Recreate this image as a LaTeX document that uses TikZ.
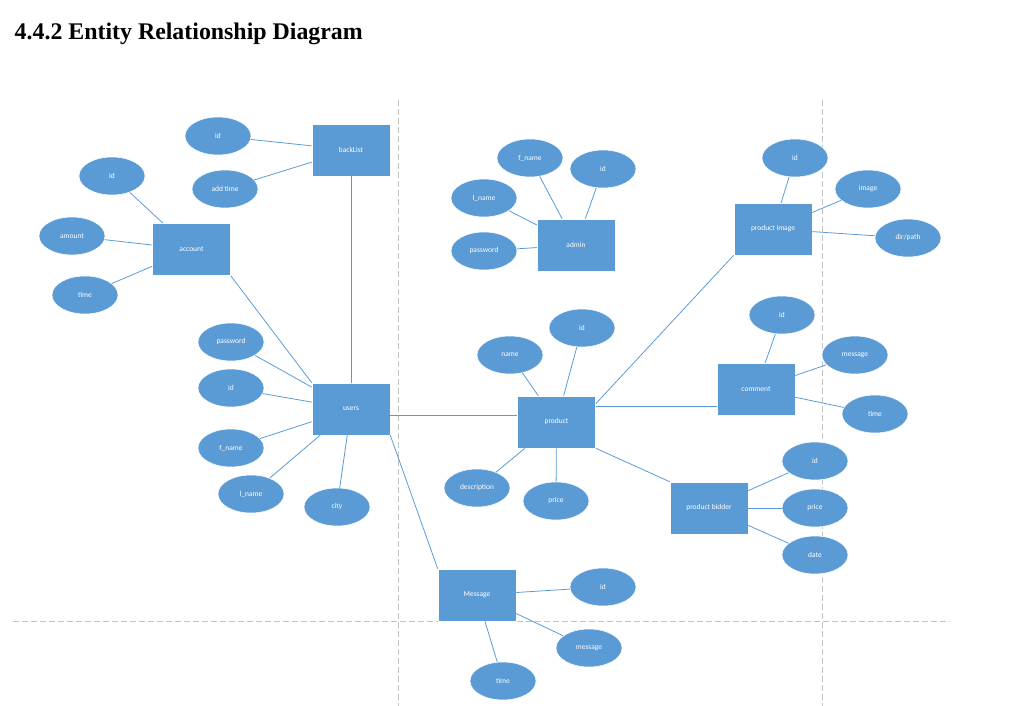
\documentclass[tikz,border=0pt]{standalone}
\usepackage{fontspec}
\setmainfont{Liberation Serif}
\newfontfamily\erfont{Carlito}
\usepackage{tikz}
\usetikzlibrary{shapes.geometric}
\definecolor{erblue}{HTML}{5B9BD5}
\definecolor{guidegray}{HTML}{C4C4C4}

\begin{document}
\begin{tikzpicture}[x=0.75pt,y=-0.75pt,
    entity/.style={rectangle,fill=erblue,draw=white,line width=0.4pt,minimum width=58.5pt,minimum height=39pt,inner sep=0pt,text=white,font=\erfont\fontsize{5.6pt}{6.5pt}\selectfont},
    attr/.style={ellipse,fill=erblue,draw=white,line width=0.4pt,minimum width=49.5pt,minimum height=28.5pt,inner sep=0pt,text=white,font=\erfont\fontsize{5.6pt}{6.5pt}\selectfont},
    link/.style={draw=erblue,line width=0.6pt},
    guide/.style={draw=guidegray,line width=0.75pt,dash pattern=on 4.5pt off 2.25pt}]
    \useasboundingbox (0,0) rectangle (1022,706);

    \node[anchor=base west,font=\bfseries\fontsize{17.9pt}{21pt}\selectfont] (title) at (10,40) {4.4.2 Entity Relationship Diagram};

    % page guides
    \coordinate (g1) at (398,100);
    \coordinate (g2) at (398,706);
    \coordinate (g3) at (822,100);
    \coordinate (g4) at (822,706);
    \coordinate (g5) at (13,621);
    \coordinate (g6) at (950,621);
    \path[guide] (g1) -- (g2);
    \path[guide] (g3) -- (g4);
    \path[guide] (g5) -- (g6);

    % entities
    \node[entity] (backlist) at (351,150) {backList};
    \node[entity] (account) at (191.5,249.5) {account};
    \node[entity] (admin) at (576,245) {admin};
    \node[entity] (pimage) at (773,229) {product image};
    \node[entity] (users) at (351,409) {users};
    \node[entity] (product) at (556.5,422) {product};
    \node[entity] (comment) at (756,389) {comment};
    \node[entity] (bidder) at (709,508) {product bidder};
    \node[entity] (message) at (477,595) {Message};

    % attributes
    \node[attr] (blid) at (218,136) {id};
    \node[attr] (bladd) at (225,189) {add time};
    \node[attr] (accid) at (112,176) {id};
    \node[attr] (accamount) at (72,236) {amount};
    \node[attr] (acctime) at (85,295) {time};
    \node[attr] (adfname) at (530,158) {f\_name};
    \node[attr] (adid) at (603,169) {id};
    \node[attr] (adlname) at (484,198) {l\_name};
    \node[attr] (adpass) at (484,251) {password};
    \node[attr] (piid) at (795,158) {id};
    \node[attr] (piimage) at (868,189) {image};
    \node[attr] (pipath) at (908,238) {dir/path};
    \node[attr] (upass) at (231,342) {password};
    \node[attr] (uid) at (231,388) {id};
    \node[attr] (ufname) at (231,448) {f\_name};
    \node[attr] (ulname) at (251,494) {l\_name};
    \node[attr] (ucity) at (337,507) {city};
    \node[attr] (pname) at (510,355) {name};
    \node[attr] (pid) at (582,328) {id};
    \node[attr] (pdesc) at (477,488) {description};
    \node[attr] (pprice) at (556,501) {price};
    \node[attr] (cid) at (782,315) {id};
    \node[attr] (cmsg) at (855,355) {message};
    \node[attr] (ctime) at (875,414) {time};
    \node[attr] (bid) at (815,461) {id};
    \node[attr] (bprice) at (815,508) {price};
    \node[attr] (bdate) at (815,555) {date};
    \node[attr] (mid) at (603,587) {id};
    \node[attr] (mmsg) at (589,648) {message};
    \node[attr] (mtime) at (503,681) {time};

    % relations
    \path[link] (backlist) edge (users);
    \path[link] (account.south east) edge (users.north west);
    \path[link] ([yshift=-4.5pt]users.east) edge ([yshift=5.25pt]product.west);
    \path[link] (users.south east) edge (message.north west);
    \path[link] ([yshift=12pt]product.east) edge ([yshift=-12.75pt]comment.west);
    \path[link] ([yshift=-6pt]product.north east) edge (pimage.south west);
    \path[link] (product.south east) edge (bidder.north west);

    % attribute links
    \path[link] (backlist) edge (blid);
    \path[link] (backlist) edge (bladd);
    \path[link] (account) edge (accid);
    \path[link] (account) edge (accamount);
    \path[link] (account) edge (acctime);
    \path[link] (admin) edge (adfname);
    \path[link] (admin) edge (adid);
    \path[link] (admin) edge (adlname);
    \path[link] (admin) edge (adpass);
    \path[link] (pimage) edge (piid);
    \path[link] (pimage) edge (piimage);
    \path[link] (pimage) edge (pipath);
    \path[link] (users) edge (upass);
    \path[link] (users) edge (uid);
    \path[link] (users) edge (ufname);
    \path[link] (users) edge (ulname);
    \path[link] (users) edge (ucity);
    \path[link] (product) edge (pname);
    \path[link] (product) edge (pid);
    \path[link] (product) edge (pdesc);
    \path[link] (product) edge (pprice);
    \path[link] (comment) edge (cid);
    \path[link] (comment) edge (cmsg);
    \path[link] (comment) edge (ctime);
    \path[link] (bidder) edge (bid);
    \path[link] (bidder) edge (bprice);
    \path[link] (bidder) edge (bdate);
    \path[link] (message) edge (mid);
    \path[link] (message) edge (mmsg);
    \path[link] (message) edge (mtime);
\end{tikzpicture}
\end{document}
